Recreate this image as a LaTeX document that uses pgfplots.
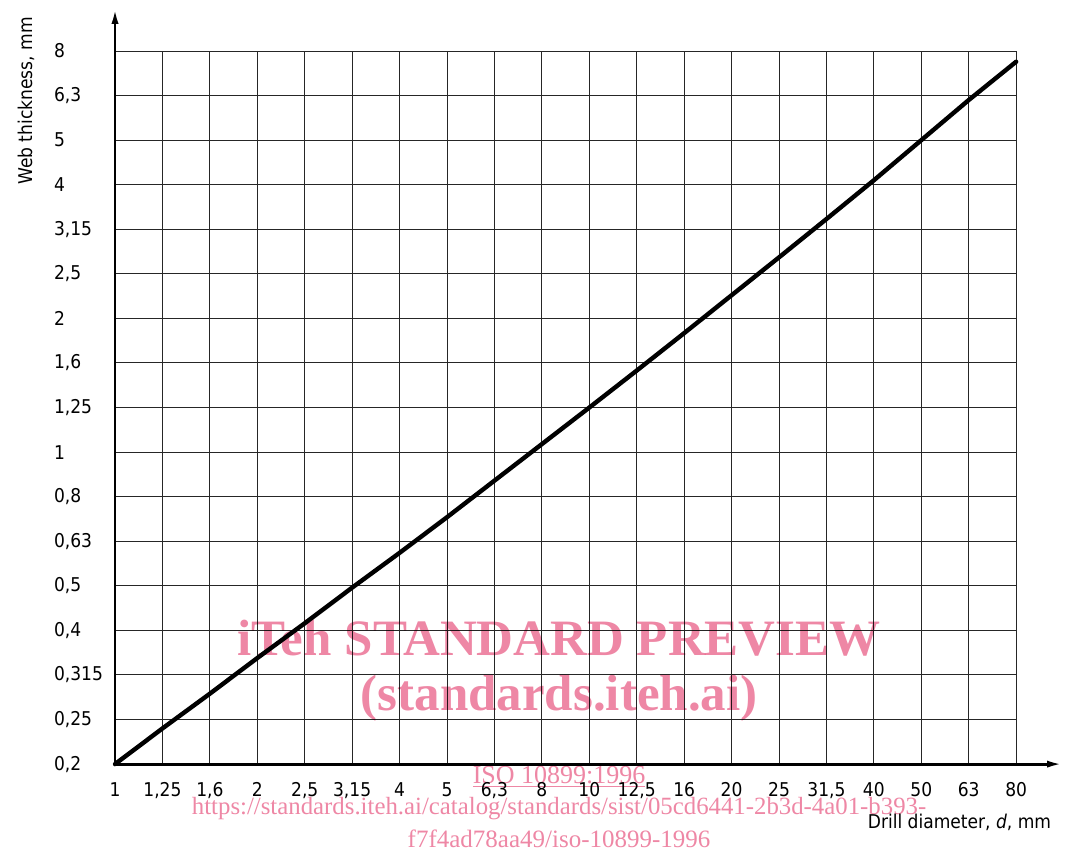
\documentclass[border=0pt]{standalone}
\usepackage{pgfplots}
\pgfplotsset{compat=1.18}
\usepackage{fontspec}
\setmainfont{DejaVu Sans Condensed}
\newfontfamily\wmfont{Liberation Serif}
\usetikzlibrary{arrows.meta}
\definecolor{wmpink}{RGB}{238,135,165}

\begin{document}
\begin{tikzpicture}
\begin{axis}[
  x=23.71pt, y=22.28pt,
  xmin=0, xmax=19, ymin=0, ymax=16,
  clip=false,
  axis line style={draw=none},
  major tick length=0pt,
  grid=major,
  major grid style={line width=0.5pt, black!85},
  xtick={0,...,19},
  ytick={0,...,16},
  xticklabels={1,{1,25},{1,6},2,{2,5},{3,15},4,5,{6,3},8,10,{12,5},16,20,25,{31,5},40,50,63,80},
  yticklabels={{0,2},{0,25},{0,315},{0,4},{0,5},{0,63},{0,8},1,{1,25},{1,6},2,{2,5},{3,15},4,5,{6,3},8},
  tick label style={font=\fontsize{9.5}{11}\selectfont},
  xticklabel style={yshift=-5.5pt},
  yticklabel style={anchor=west, xshift=-34pt},
]
% web thickness against drill diameter, both on the R10 preferred-number scale
\addplot[line width=2.2pt, line join=round, line cap=round] table {
x y
0 0
1 0.80
2 1.58
3 2.38
4 3.16
5 3.96
6 4.74
7 5.54
8 6.36
9 7.18
10 8.00
11 8.83
12 9.67
13 10.52
14 11.37
15 12.23
16 13.10
17 14.00
18 14.90
19 15.76
};
% axes with arrow heads
\draw[line width=1.4pt, -{Latex[length=8pt,width=3.5pt]}] (axis cs:0,0) -- (axis cs:0,16.97);
\draw[line width=1.4pt, -{Latex[length=8pt,width=3.5pt]}] (axis cs:0,0) -- (axis cs:19.99,0);
% axis titles
\node[rotate=90, anchor=base east, font=\fontsize{9.5}{11}\selectfont] at (axis cs:-1.75,16.92) {Web thickness, mm};
\node[anchor=base east, font=\fontsize{9.5}{11}\selectfont] at (axis cs:19.886,-1.436) {Drill diameter, \textit{d}, mm};
% anchors for the overlay text
\coordinate (wm1) at (axis cs:9.363,2.446);
\coordinate (wm2) at (axis cs:9.363,1.212);
\coordinate (wm3) at (axis cs:9.363,-0.426);
\coordinate (wm4) at (axis cs:9.363,-1.122);
\coordinate (wm5) at (axis cs:9.363,-1.863);
\coordinate (bbsw) at (axis cs:-2.425,-1.997);
\coordinate (bbne) at (axis cs:20.03,17.145);
\end{axis}
\begin{scope}[blend mode=multiply]
\node[anchor=base, text=wmpink, inner sep=0pt, font=\wmfont\bfseries\fontsize{25.5}{28}\selectfont] at (wm1) {iTeh STANDARD PREVIEW};
\node[anchor=base, text=wmpink, inner sep=0pt, font=\wmfont\bfseries\fontsize{25.5}{28}\selectfont] at (wm2) {(standards.iteh.ai)};
\node[anchor=base, text=wmpink, inner sep=0pt, font=\wmfont\fontsize{13}{15}\selectfont] at (wm3) {\underline{ISO 10899:1996}};
\node[anchor=base, text=wmpink, inner sep=0pt, font=\wmfont\fontsize{12.4}{15}\selectfont] at (wm4) {https://standards.iteh.ai/catalog/standards/sist/05cd6441-2b3d-4a01-b393-};
\node[anchor=base, text=wmpink, inner sep=0pt, font=\wmfont\fontsize{12.5}{15}\selectfont] at (wm5) {f7f4ad78aa49/iso-10899-1996};
\end{scope}
\pgfresetboundingbox
\useasboundingbox (bbsw) rectangle (bbne);
\end{tikzpicture}
\end{document}
